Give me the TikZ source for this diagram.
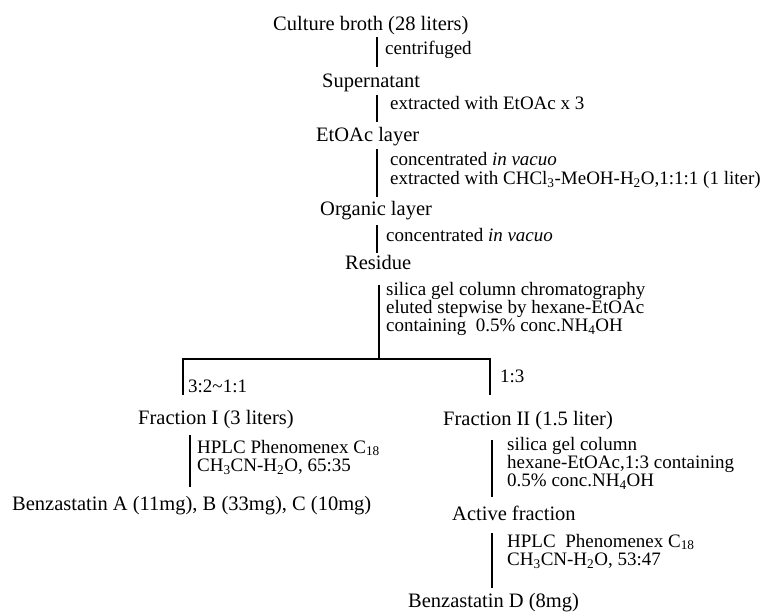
\documentclass[tikz,border=0pt]{standalone}
\usepackage{fontspec}
\setmainfont{Liberation Serif}
\newcommand{\stk}[1]{\begin{tabular}[t]{@{}l@{}}#1\end{tabular}}
\begin{document}
\begin{tikzpicture}[x=1pt,y=-1pt,
  main/.style={anchor=base west,inner sep=0pt,font=\fontsize{20.5}{22}\selectfont},
  lab/.style={anchor=base west,inner sep=0pt,font=\fontsize{19}{18.3}\selectfont},
  link/.style={line width=1.3pt,black}]
\useasboundingbox[fill=white] (0,0) rectangle (768,612);
% main nodes
\node[main] (culture) at (273,31) {Culture broth (28 liters)};
\node[main] (super) at (322,88) {Supernatant};
\node[main] (etoac) at (316,142) {EtOAc layer};
\node[main] (organic) at (320,216) {Organic layer};
\node[main] (residue) at (345,270) {Residue};
\node[main] (frI) at (138,424) {Fraction I (3 liters)};
\node[main] (frII) at (443,425) {Fraction II (1.5 liter)};
\node[main] (benzABC) at (12,510) {Benzastatin A (11mg), B (33mg), C (10mg)};
\node[main] (active) at (452,520) {Active fraction};
\node[main] (benzD) at (408,607) {Benzastatin D (8mg)};
% labels (baseline of first line)
\node[lab] (s1) at (385,55) {centrifuged};
\node[lab] (s2) at (390,110) {extracted with EtOAc x 3};
\node[lab] (s3) at (390,166) {\stk{concentrated \textit{in vacuo}\\extracted with CHCl\textsubscript{3}-MeOH-H\textsubscript{2}O,1:1:1 (1 liter)}};
\node[lab] (s4) at (386,242) {concentrated \textit{in vacuo}};
\node[lab] (s5) at (386,295) {\stk{silica gel column chromatography\\eluted stepwise by hexane-EtOAc\\containing\ \ 0.5\% conc.NH\textsubscript{4}OH}};
\node[lab] (r1) at (188,392) {3:2\char"007E 1:1};
\node[lab] (r2) at (500,382) {1:3};
\node[lab] (s6) at (197,453) {\stk{HPLC Phenomenex C\textsubscript{18}\\CH\textsubscript{3}CN-H\textsubscript{2}O, 65:35}};
\node[lab] (s7) at (507,450) {\stk{silica gel column\\hexane-EtOAc,1:3 containing\\0.5\% conc.NH\textsubscript{4}OH}};
\node[lab] (s8) at (507,547) {\stk{HPLC\ \ Phenomenex C\textsubscript{18}\\CH\textsubscript{3}CN-H\textsubscript{2}O, 53:47}};
% connector ends
\coordinate (a1) at (377,37); \coordinate (b1) at (377,67);
\coordinate (a2) at (377,95); \coordinate (b2) at (377,122);
\coordinate (a3) at (377,149); \coordinate (b3) at (377,197);
\coordinate (a4) at (377,225); \coordinate (b4) at (377,253);
\coordinate (a5) at (379,285); \coordinate (split) at (379,359);
\coordinate (hl) at (183,359); \coordinate (hr) at (490,359);
\coordinate (bl) at (183,395); \coordinate (br) at (490,395);
\coordinate (a6) at (190,435); \coordinate (b6) at (190,487);
\coordinate (a7) at (492,440); \coordinate (b7) at (492,497);
\coordinate (a8) at (492,533); \coordinate (b8) at (492,588);
% connectors
\draw[link] (a1) -- (b1);
\draw[link] (a2) -- (b2);
\draw[link] (a3) -- (b3);
\draw[link] (a4) -- (b4);
\draw[link] (a5) -- (split);
\draw[link] (bl) -- (hl) -- (hr) -- (br);
\draw[link] (a6) -- (b6);
\draw[link] (a7) -- (b7);
\draw[link] (a8) -- (b8);
\end{tikzpicture}
\end{document}
